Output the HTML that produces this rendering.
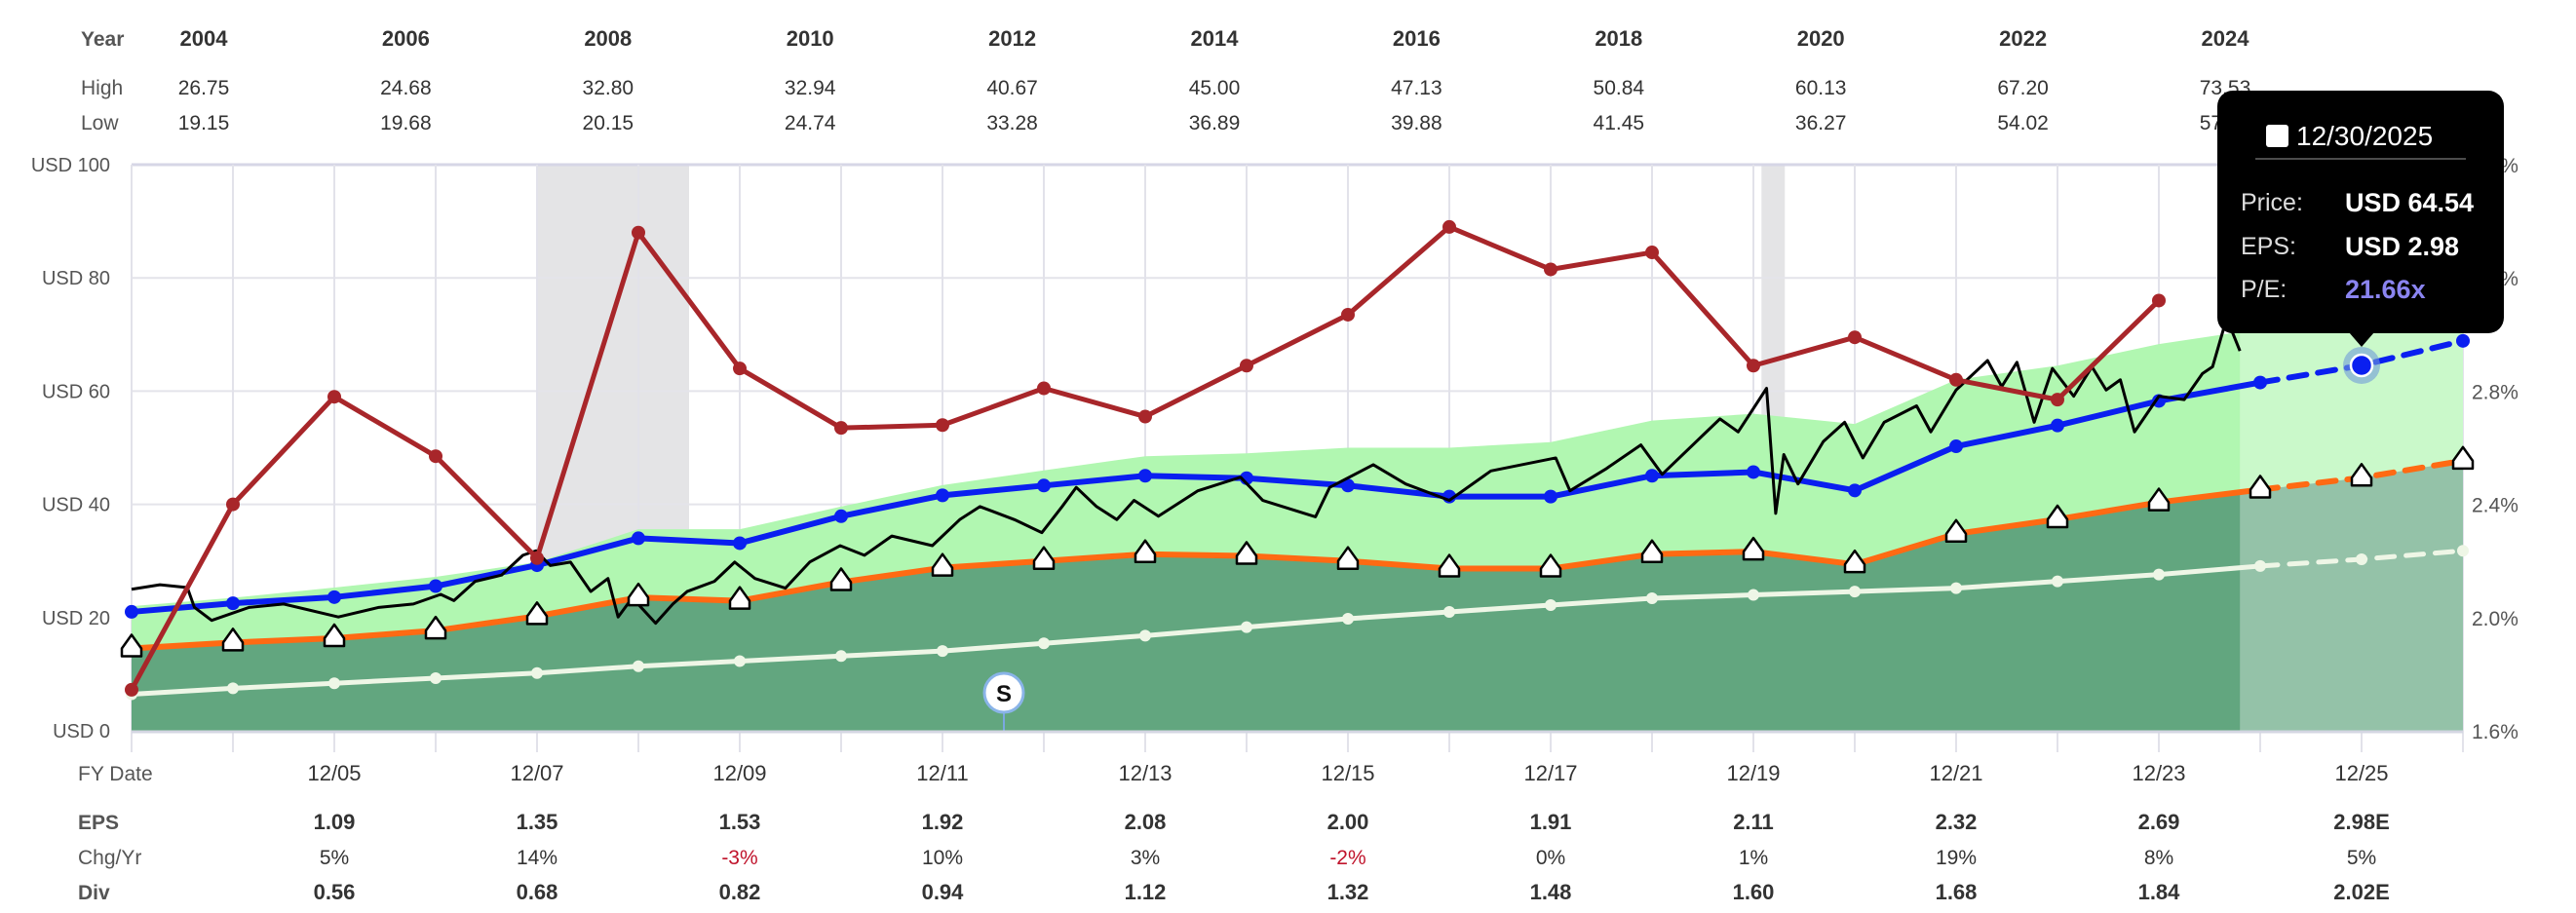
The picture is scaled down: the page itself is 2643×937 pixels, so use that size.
<!DOCTYPE html>
<html><head><meta charset="utf-8">
<style>
html,body{margin:0;padding:0;background:#fff;}
svg{display:block;font-family:"Liberation Sans",Arial,sans-serif;}
</style></head>
<body>
<svg id="chart" width="2643" height="937" viewBox="0 0 2643 937" xmlns="http://www.w3.org/2000/svg"></svg>
<script>
// ---- data ----
const fyYears = [2003,2004,2005,2006,2007,2008,2009,2010,2011,2012,2013,2014,2015,2016,2017,2018,2019,2020,2021,2022,2023,2024,2025,2026];
const epsSeries = [0.97,1.04,1.09,1.18,1.35,1.57,1.53,1.75,1.92,2.00,2.08,2.06,2.00,1.91,1.91,2.08,2.11,1.96,2.32,2.49,2.69,2.84,2.98,3.18];
const divSeries = [0.43,0.50,0.56,0.62,0.68,0.76,0.82,0.88,0.94,1.03,1.12,1.22,1.32,1.40,1.48,1.56,1.60,1.64,1.68,1.76,1.84,1.94,2.02,2.12];
const bandTop = [22,23.5,25.3,27.2,29.8,35.6,35.6,39.6,43.4,46,48.5,49,50,50,51,54.8,56,54.2,62,64.5,68.3,71,73,75];
const yieldYears = [2003,2004,2005,2006,2007,2008,2009,2010,2011,2012,2013,2014,2015,2016,2017,2018,2019,2020,2021,2022,2023];
const yieldPct = [1.745,2.40,2.78,2.57,2.21,3.36,2.88,2.67,2.68,2.81,2.71,2.89,3.07,3.38,3.23,3.29,2.89,2.99,2.84,2.77,3.12];
const priceT = [2003.0,2003.28,2003.55,2003.62,2003.79,2004.16,2004.5,2005.04,2005.44,2005.78,2006.05,2006.18,2006.39,2006.65,2006.86,2006.99,2007.13,2007.33,2007.53,2007.7,2007.8,2007.94,2008.17,2008.34,2008.48,2008.75,2008.95,2009.15,2009.45,2009.69,2009.99,2010.23,2010.5,2010.9,2011.17,2011.37,2011.71,2011.98,2012.18,2012.32,2012.52,2012.72,2012.89,2013.13,2013.52,2013.94,2014.16,2014.68,2014.82,2015.25,2015.57,2016.0,2016.41,2017.05,2017.19,2017.54,2017.89,2018.1,2018.67,2018.85,2019.13,2019.22,2019.3,2019.44,2019.69,2019.9,2020.08,2020.29,2020.61,2020.75,2021.0,2021.31,2021.45,2021.6,2021.77,2021.95,2022.16,2022.34,2022.48,2022.62,2022.76,2023.0,2023.25,2023.43,2023.53,2023.64,2023.71,2023.8];
const priceV = [25,25.8,25.3,21.8,19.5,21.8,22.4,20.1,21.8,22.4,24.1,23,26.4,27.5,31,31.8,29.2,29.8,24.6,26.9,20.1,23.5,19,22.4,24.6,26.4,29.8,26.9,25.2,29.8,32.7,31,34.4,32.7,37.3,39.6,37.3,35,39.6,43,39.6,37.3,40.7,37.9,42.4,44.8,40.7,37.8,43,47,43.6,40.7,45.9,48.2,42.4,46.2,50.5,45.3,55.1,52.8,60.5,38.4,48.8,43.6,51.1,54.5,48.2,54.5,57.4,52.8,60.2,65.4,60.8,65.1,54.5,64,59.1,64.3,60.2,62,52.8,59.1,58.5,63.1,64.3,71.1,71.1,67.1];
const yTicks = [0,20,40,60,80,100];
const rTicks = ["1.6%","2.0%","2.4%","2.8%","3.2%","3.6%"];
const topYears = ["2004","2006","2008","2010","2012","2014","2016","2018","2020","2022","2024"];
const topHigh = ["26.75","24.68","32.80","32.94","40.67","45.00","47.13","50.84","60.13","67.20","73.53"];
const topLow = ["19.15","19.68","20.15","24.74","33.28","36.89","39.88","41.45","36.27","54.02","57.60"];
const fyLabels = ["12/05","12/07","12/09","12/11","12/13","12/15","12/17","12/19","12/21","12/23","12/25"];
const fyEps = ["1.09","1.35","1.53","1.92","2.08","2.00","1.91","2.11","2.32","2.69","2.98E"];
const fyChg = ["5%","14%","-3%","10%","3%","-2%","0%","1%","19%","8%","5%"];
const fyDiv = ["0.56","0.68","0.82","0.94","1.12","1.32","1.48","1.60","1.68","1.84","2.02E"];
const recessions = [[2007.0,2008.5],[2019.08,2019.31]];
const normalPE = 21.66, basePE = 15;
const forecastStart = 2023.8, solidEndYear = 2024;

// ---- scales ----
const X0=135, XW=104, Y0=750, YS=5.81;
const sx = t => X0 + (t-2003)*XW;
const sy = v => Y0 - v*YS;
const syPct = p => Y0 - (p-1.6)/2.0*100*YS;
const NS="http://www.w3.org/2000/svg";
const svg=document.getElementById('chart');
function mk(tag, attrs, parent){const e=document.createElementNS(NS,tag);for(const k in attrs)e.setAttribute(k,attrs[k]);(parent||svg).appendChild(e);return e;}
function txt(s, attrs, parent){const e=mk('text',attrs,parent);e.textContent=s;return e;}

// recession shading
recessions.forEach(r=>{
  const e=mk('rect',{x:sx(r[0]),y:sy(100),width:sx(r[1])-sx(r[0]),height:sy(0)-sy(100),fill:'#e4e4e6'});
  
  
});
// grid
yTicks.forEach(v=>{
  const e=mk('line',{x1:X0,x2:sx(2026),y1:sy(v),y2:sy(v),stroke:v===100?'#d6d6e6':'#e4e4ea','stroke-width':v===100?3:2});
  
  
});
fyYears.forEach(y=>{
  const e=mk('line',{x1:sx(y),x2:sx(y),y1:sy(100),y2:sy(0)+22,stroke:'#e2e2ea','stroke-width':2});
  
  
});
// areas
const orangeV = epsSeries.map(e=>e*basePE);
const blueV = epsSeries.map(e=>e*normalPE);
const whiteV = divSeries.map(d=>d*basePE);
let pLight = fyYears.map((y,i)=>sx(y)+','+sy(bandTop[i])).join(' ')+' '+fyYears.slice().reverse().map((y,j)=>{const i=fyYears.length-1-j;return sx(y)+','+sy(orangeV[i]);}).join(' ');
let a1=mk('polygon',{points:pLight,fill:'#b1f7b1'});


let pDark = fyYears.map((y,i)=>sx(y)+','+sy(orangeV[i])).join(' ')+' '+sx(2026)+','+sy(0)+' '+sx(2003)+','+sy(0);
let a2=mk('polygon',{points:pDark,fill:'#62a67f'});


// forecast overlay
let fo=mk('rect',{x:sx(forecastStart),y:sy(100),width:sx(2026)-sx(forecastStart),height:sy(0)-sy(100),fill:'#ffffff','fill-opacity':0.32});



function line(vals, years, color, w, dash, name){
  const pts=years.map((y,i)=>sx(y)+','+sy(vals[i])).join(' ');
  const e=mk('polyline',{points:pts,fill:'none',stroke:color,'stroke-width':w,'stroke-linejoin':'round','stroke-linecap':'round'});
  if(dash)e.setAttribute('stroke-dasharray',dash);
  
  
}
function splitLine(vals,color,w,name){
  const si=fyYears.indexOf(solidEndYear);
  line(vals.slice(0,si+1),fyYears.slice(0,si+1),color,w,null,name);
  line(vals.slice(si),fyYears.slice(si),color,w,'18 12',name+'-forecast');
}
// white dividend line
splitLine(whiteV,'#eef6e6',5,'dividend-line');
fyYears.forEach((y,i)=>{const e=mk('circle',{cx:sx(y),cy:sy(whiteV[i]),r:6,fill:'#eef6e6'});
  
  });
// S marker
let sl=mk('line',{x1:1030,x2:1030,y1:711,y2:750,stroke:'#7aa8e0','stroke-width':2});


let sc=mk('circle',{cx:1030,cy:711,r:20,fill:'#fff',stroke:'#8ab4e8','stroke-width':3});


txt('S',{x:1030,y:720,'text-anchor':'middle','font-size':24,'font-weight':'bold',fill:'#111'});
// orange line
splitLine(orangeV,'#ff6a13',6,'eps-15pe-line');
// blue line
splitLine(blueV,'#0a1ff0',6,'normal-pe-line');
fyYears.forEach((y,i)=>{if(y===2025)return;const e=mk('circle',{cx:sx(y),cy:sy(blueV[i]),r:7,fill:'#0a1ff0'});
  
  });
// price line
const pp=priceT.map((t,i)=>sx(t)+','+sy(priceV[i])).join(' ');
let pl=mk('polyline',{points:pp,fill:'none',stroke:'#000','stroke-width':3,'stroke-linejoin':'round'});


// red yield line
const rp=yieldYears.map((y,i)=>sx(y)+','+syPct(yieldPct[i])).join(' ');
let rl=mk('polyline',{points:rp,fill:'none',stroke:'#a8262a','stroke-width':5,'stroke-linejoin':'round'});


yieldYears.forEach((y,i)=>{const e=mk('circle',{cx:sx(y),cy:syPct(yieldPct[i]),r:7,fill:'#a8262a'});
  
  });
// triangle markers
fyYears.forEach((y,i)=>{
  const cx=sx(y), cy=sy(orangeV[i]);
  const d=`M${cx-10},${cy+8} L${cx-10},${cy} L${cx},${cy-14} L${cx+10},${cy} L${cx+10},${cy+8} Z`;
  const e=mk('path',{d:d,fill:'#fff',stroke:'#000','stroke-width':2.5,'stroke-linejoin':'round'});
  
  
});
// highlighted point
const hi=fyYears.indexOf(2025);
let hc=mk('circle',{cx:sx(2025),cy:sy(blueV[hi]),r:19,fill:'#6f9bd8','fill-opacity':0.6});


let hd=mk('circle',{cx:sx(2025),cy:sy(blueV[hi]),r:11,fill:'#0a1ff0',stroke:'#fff','stroke-width':2.5});



// axis line
let ax=mk('line',{x1:X0,x2:sx(2026),y1:Y0+1,y2:Y0+1,stroke:'#d4d6e2','stroke-width':3});


// left ticks
yTicks.forEach(v=>{const e=txt('USD '+v,{x:113,y:sy(v)+7,'text-anchor':'end','font-size':20,fill:'#555'});
  
  });
rTicks.forEach((s,i)=>{const e=txt(s,{x:2536,y:sy(i*20)+8,'font-size':21,fill:'#555'});
  
  });

// top table
const tx = i => 209 + i*207.4;
[['Year',39],['High',89],['Low',125]].forEach(r=>{const e=txt(r[0],{x:83,y:r[1]+8,'font-size':21,fill:'#555','font-weight':r[0]==='Year'?'bold':'normal'});
  
  });
topYears.forEach((s,i)=>{
  let e=txt(s,{x:tx(i),y:47,'text-anchor':'middle','font-size':22,'font-weight':'bold',fill:'#333'});
  
  
  e=txt(topHigh[i],{x:tx(i),y:97,'text-anchor':'middle','font-size':21,fill:'#333'});
  
  
  e=txt(topLow[i],{x:tx(i),y:133,'text-anchor':'middle','font-size':21,fill:'#333'});
  
  
});
// bottom table
const bx = i => sx(2005+2*i);
[['FY Date',793,'normal'],['EPS',843,'bold'],['Chg/Yr',879,'normal'],['Div',915,'bold']].forEach(r=>{
  const e=txt(r[0],{x:80,y:r[1]+8,'font-size':21,fill:'#555','font-weight':r[2]});
  
  });
fyLabels.forEach((s,i)=>{
  let e=txt(s,{x:bx(i),y:801,'text-anchor':'middle','font-size':22,fill:'#333'});
  
  
  e=txt(fyEps[i],{x:bx(i),y:851,'text-anchor':'middle','font-size':22,'font-weight':'bold',fill:'#333'});
  
  
  e=txt(fyChg[i],{x:bx(i),y:887,'text-anchor':'middle','font-size':21,fill:fyChg[i].startsWith('-')?'#c0142c':'#333'});
  
  
  e=txt(fyDiv[i],{x:bx(i),y:923,'text-anchor':'middle','font-size':22,'font-weight':'bold',fill:'#333'});
  
  
});

// tooltip
const tg=mk('g',{});


mk('rect',{x:2275,y:93,width:294,height:249,rx:16,fill:'#000'},tg);
mk('path',{d:'M2410,341 L2423,356 L2436,341 Z',fill:'#000'},tg);
mk('rect',{x:2325,y:128,width:23,height:23,rx:3,fill:'#fff'},tg);
txt('12/30/2025',{x:2356,y:149,'font-size':28,fill:'#fff'},tg);
mk('line',{x1:2314,x2:2530,y1:163,y2:163,stroke:'#666','stroke-width':1.5},tg);
txt('Price:',{x:2299,y:216,'font-size':25,fill:'#ddd'},tg);
txt('USD 64.54',{x:2406,y:217,'font-size':27,'font-weight':'bold',fill:'#fff'},tg);
txt('EPS:',{x:2299,y:261,'font-size':25,fill:'#ddd'},tg);
txt('USD 2.98',{x:2406,y:262,'font-size':27,'font-weight':'bold',fill:'#fff'},tg);
txt('P/E:',{x:2299,y:305,'font-size':25,fill:'#ddd'},tg);
txt('21.66x',{x:2406,y:306,'font-size':27,'font-weight':'bold',fill:'#8a84f0'},tg);
</script>
</body></html>
